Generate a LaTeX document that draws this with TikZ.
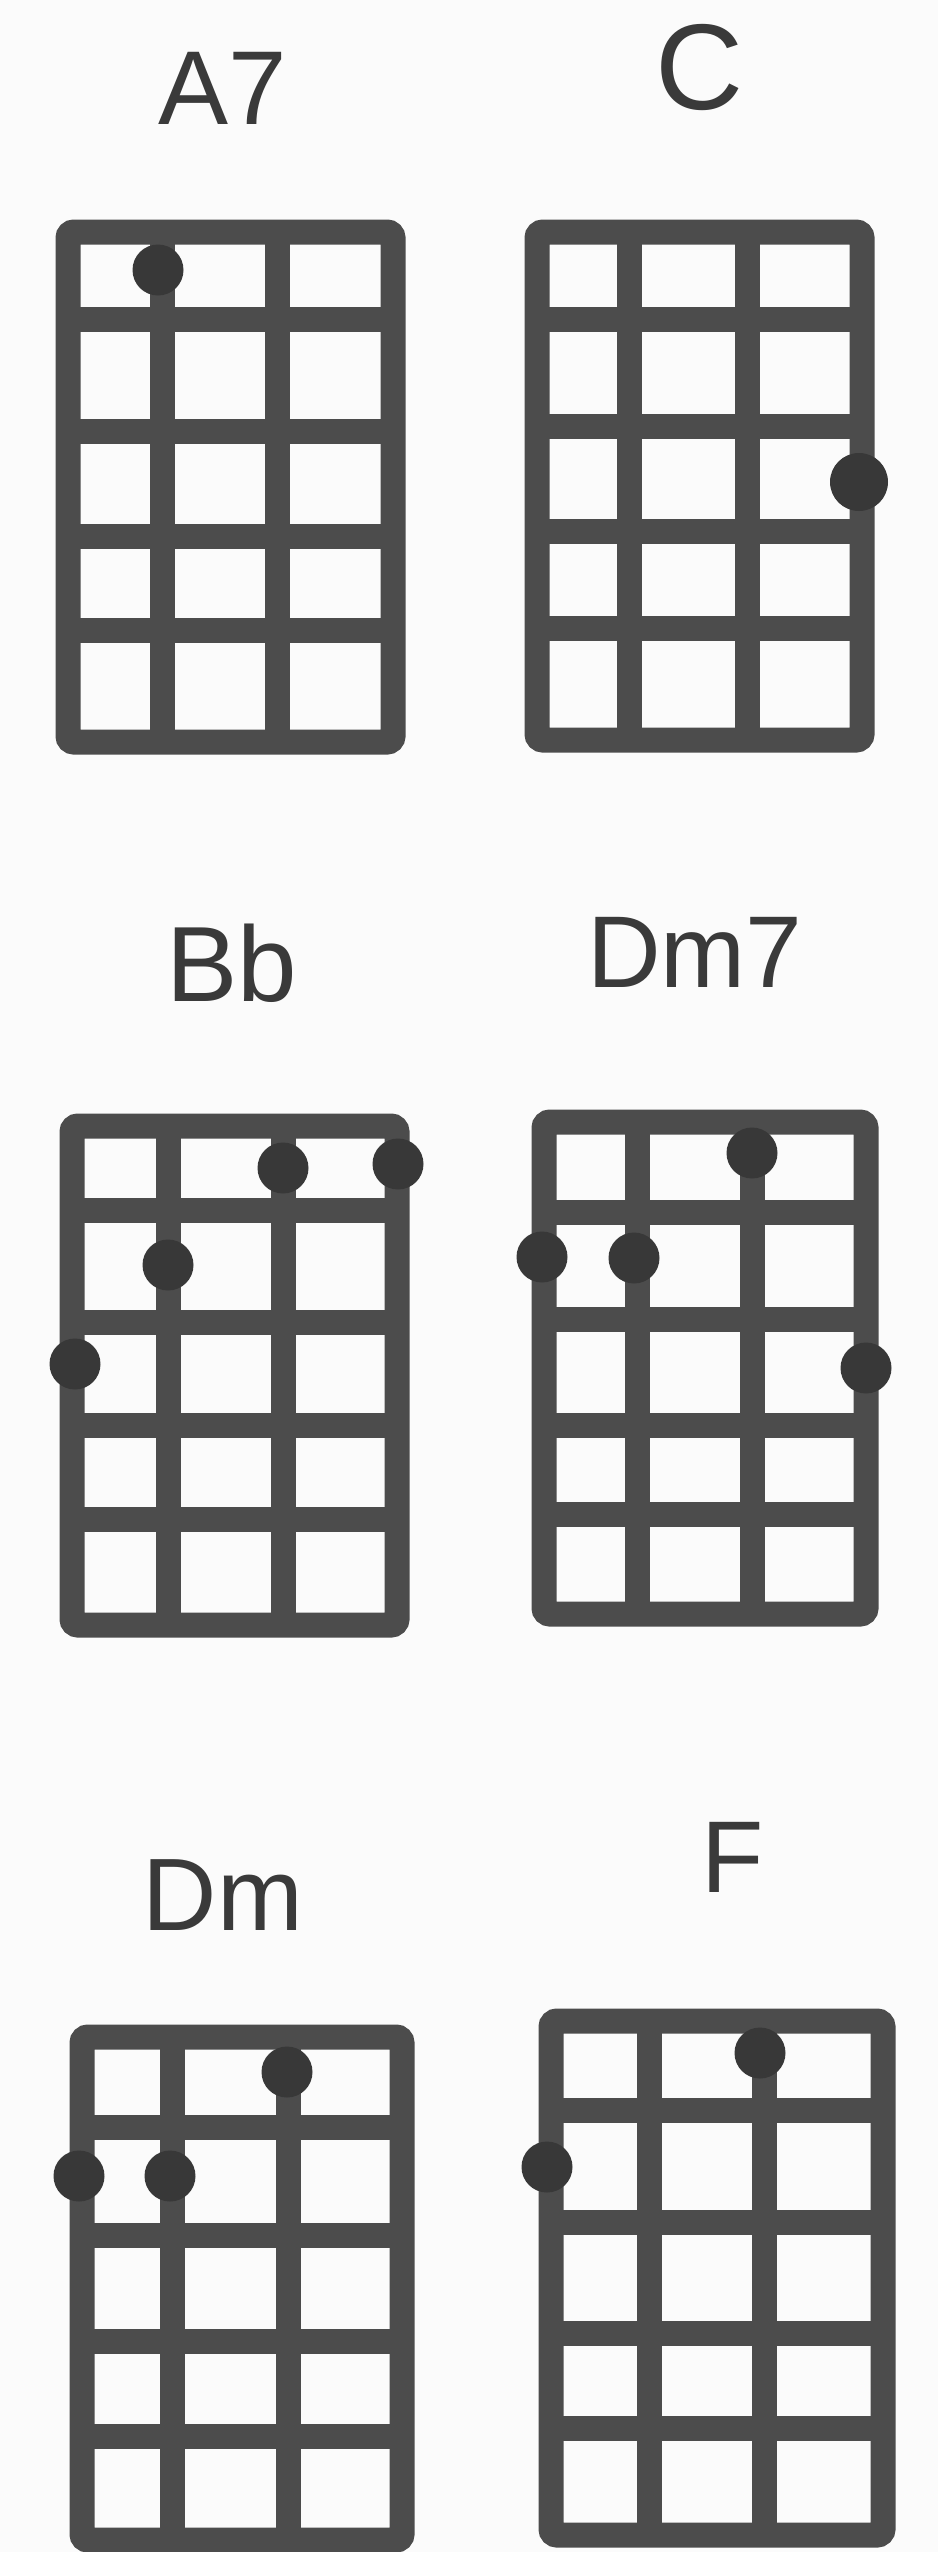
\documentclass[tikz,border=0pt]{standalone}
\usepackage{fontspec}
\setmainfont{Liberation Sans}
\definecolor{gridcol}{HTML}{4C4C4C}
\definecolor{dotcol}{HTML}{383838}
\definecolor{textcol}{HTML}{3A3A3A}
\definecolor{bgcol}{HTML}{FBFBFB}
\tikzset{
  gridline/.style={draw=gridcol, line width=25pt},
  frame/.style={draw=gridcol, line width=25pt, rounded corners=6pt},
  fingerdot/.style={circle, fill=dotcol, minimum size=51pt, inner sep=0pt},
  chordname/.style={text=textcol, inner sep=0pt, font=\fontsize{104}{104}\selectfont}
}
\begin{document}
\begin{tikzpicture}[x=1pt,y=-1pt]
\fill[bgcol] (0,0) rectangle (938,2552);
\useasboundingbox (0,0) rectangle (938,2552);

% ---------- A7 ----------
\node[chordname, font=\fontsize{105}{105}\selectfont] (nA7) at (223,88) {A7};
\foreach \x in {162,277} \draw[gridline] (\x,232) -- (\x,742);
\foreach \y in {319,431,536,630} \draw[gridline] (68,\y) -- (393,\y);
\draw[frame] (68,232) rectangle (393,742);
\node[fingerdot] (a7a) at (158,270) {};

% ---------- C ----------
\node[chordname, font=\fontsize{122}{122}\selectfont] (nC) at (700,67) {C};
\foreach \x in {629,747} \draw[gridline] (\x,232) -- (\x,740);
\foreach \y in {319,426,531,628} \draw[gridline] (537,\y) -- (862,\y);
\draw[frame] (537,232) rectangle (862,740);
\node[fingerdot, minimum size=58pt] (ca) at (859,482) {};

% ---------- Bb ----------
\node[chordname, font=\fontsize{107}{107}\selectfont] (nBb) at (232,963) {Bb};
\foreach \x in {168,283} \draw[gridline] (\x,1126) -- (\x,1625);
\foreach \y in {1210,1322,1425,1519} \draw[gridline] (72,\y) -- (397,\y);
\draw[frame] (72,1126) rectangle (397,1625);
\node[fingerdot] (bba) at (283,1168) {};
\node[fingerdot] (bbb) at (398,1164) {};
\node[fingerdot] (bbc) at (168,1265) {};
\node[fingerdot] (bbd) at (75,1364) {};

% ---------- Dm7 ----------
\node[chordname, font=\fontsize{102}{102}\selectfont] (nDm7) at (695,952) {Dm7};
\foreach \x in {637,752} \draw[gridline] (\x,1124) -- (\x,1614);
\foreach \y in {1212,1319,1425,1514} \draw[gridline] (544,\y) -- (866,\y);
\draw[frame] (544,1122) rectangle (866,1614);
\node[fingerdot] (dsa) at (752,1153) {};
\node[fingerdot] (dsb) at (542,1257) {};
\node[fingerdot] (dsc) at (634,1258) {};
\node[fingerdot] (dsd) at (866,1368) {};

% ---------- Dm ----------
\node[chordname, font=\fontsize{103}{103}\selectfont] (nDm) at (223,1895) {Dm};
\foreach \x in {172,288} \draw[gridline] (\x,2037) -- (\x,2540);
\foreach \y in {2127,2235,2341,2436} \draw[gridline] (82,\y) -- (402,\y);
\draw[frame] (82,2037) rectangle (402,2540);
\node[fingerdot] (dma) at (287,2072) {};
\node[fingerdot] (dmb) at (79,2176) {};
\node[fingerdot] (dmc) at (170,2176) {};

% ---------- F ----------
\node[chordname, font=\fontsize{102}{102}\selectfont] (nF) at (733,1857) {F};
\foreach \x in {649,764} \draw[gridline] (\x,2021) -- (\x,2535);
\foreach \y in {2110,2222,2333,2428} \draw[gridline] (551,\y) -- (883,\y);
\draw[frame] (551,2021) rectangle (883,2535);
\node[fingerdot] (fa) at (760,2053) {};
\node[fingerdot] (fb) at (547,2167) {};
\end{tikzpicture}
\end{document}
